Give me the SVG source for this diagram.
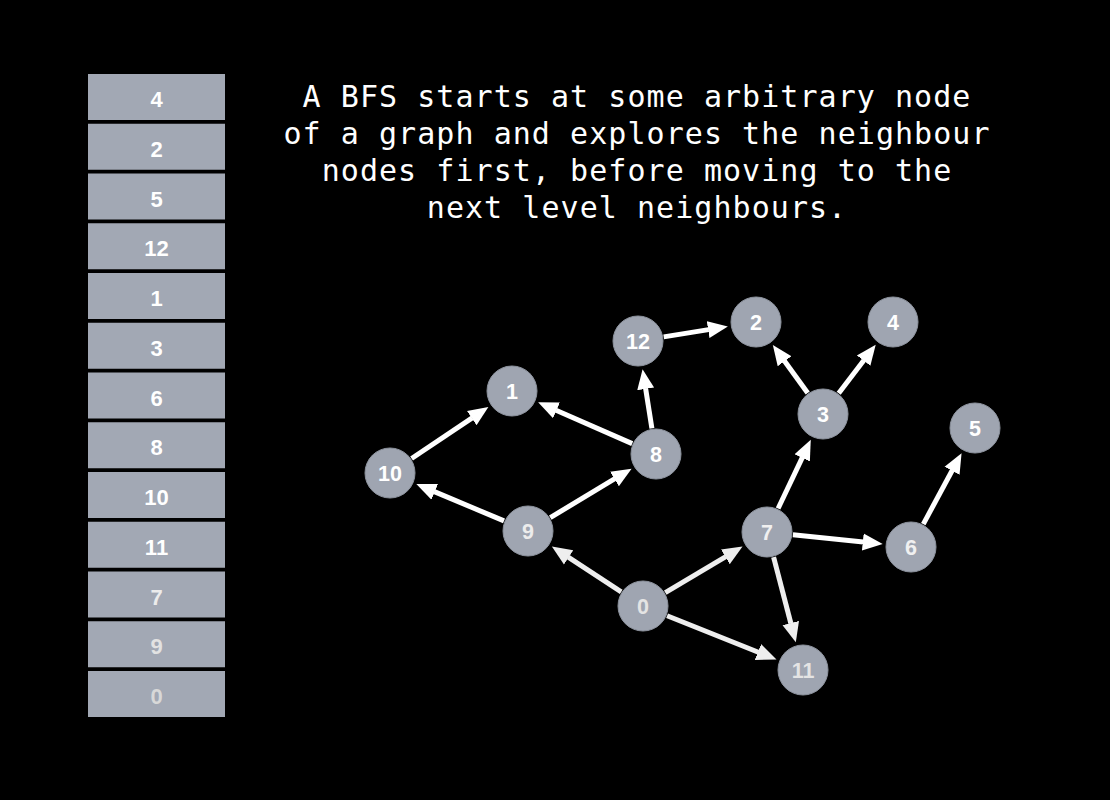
<svg xmlns="http://www.w3.org/2000/svg" width="1110" height="800" viewBox="0 0 1110 800">
<style>
.box{fill:#a2a8b4}
.bl{font-family:"Liberation Sans",Arial,sans-serif;font-weight:bold;font-size:22px;fill:#ffffff;text-anchor:middle}
.node{fill:#9fa5b1;stroke:#8d939e;stroke-width:1}
.nl{font-family:"Liberation Sans",Arial,sans-serif;font-weight:bold;font-size:21.5px;fill:#ffffff;text-anchor:middle}
.edge{stroke:#ffffff;stroke-width:5;fill:none;marker-end:url(#ah)}
.edge.g{stroke:#eeeeee;marker-end:url(#ahg)}
.title{font-family:"DejaVu Sans Mono","Liberation Mono",monospace;font-size:30px;letter-spacing:1.05px;fill:#ffffff;text-anchor:middle}
</style>
<defs>
<marker id="ah" markerUnits="userSpaceOnUse" viewBox="0 -10 22 20" markerWidth="22" markerHeight="20" refX="0.5" refY="0" orient="auto">
<path d="M0,-8.5 L20,0 L0,8.5 z" fill="#ffffff"/>
</marker>
<marker id="ahg" markerUnits="userSpaceOnUse" viewBox="0 -10 22 20" markerWidth="22" markerHeight="20" refX="0.5" refY="0" orient="auto">
<path d="M0,-8.5 L20,0 L0,8.5 z" fill="#eeeeee"/>
</marker>
</defs>
<rect width="1110" height="800" fill="#000000"/>

<g id="queue">
<rect class="box" x="88" y="74" width="137" height="46"/><text class="bl" x="156.5" y="107">4</text>
<rect class="box" x="88" y="123.75" width="137" height="46"/><text class="bl" x="156.5" y="156.75">2</text>
<rect class="box" x="88" y="173.5" width="137" height="46"/><text class="bl" x="156.5" y="206.5">5</text>
<rect class="box" x="88" y="223.25" width="137" height="46"/><text class="bl" x="156.5" y="256.25">12</text>
<rect class="box" x="88" y="273" width="137" height="46"/><text class="bl" x="156.5" y="306">1</text>
<rect class="box" x="88" y="322.75" width="137" height="46"/><text class="bl" x="156.5" y="355.75">3</text>
<rect class="box" x="88" y="372.5" width="137" height="46"/><text class="bl" x="156.5" y="405.5">6</text>
<rect class="box" x="88" y="422.25" width="137" height="46"/><text class="bl" x="156.5" y="455.25">8</text>
<rect class="box" x="88" y="472" width="137" height="46"/><text class="bl" x="156.5" y="505">10</text>
<rect class="box" x="88" y="521.75" width="137" height="46"/><text class="bl" x="156.5" y="554.75">11</text>
<rect class="box" x="88" y="571.5" width="137" height="46"/><text class="bl" x="156.5" y="604.5" style="fill:#ececec">7</text>
<rect class="box" x="88" y="621.25" width="137" height="46"/><text class="bl" x="156.5" y="654.25" style="fill:#e2e2e2">9</text>
<rect class="box" x="88" y="671" width="137" height="46"/><text class="bl" x="156.5" y="704" style="fill:#d8d8d8">0</text>
</g>

<g id="caption">
<text class="title" x="637" y="107">A BFS starts at some arbitrary node</text>
<text class="title" x="637" y="144">of a graph and explores the neighbour</text>
<text class="title" x="637" y="181">nodes first, before moving to the</text>
<text class="title" x="637" y="218">next level neighbours.</text>
</g>

<g id="connectors">
<line class="edge g" x1="621.2" y1="591.8" x2="568.2" y2="557.2"/>
<line class="edge g" x1="665.3" y1="592.7" x2="725.8" y2="556.6"/>
<line class="edge g" x1="667.1" y1="615.7" x2="758.4" y2="652.2"/>
<line class="edge" x1="504" y1="520.9" x2="434.3" y2="491.6"/>
<line class="edge" x1="550.3" y1="517.6" x2="614.9" y2="478.7"/>
<line class="edge" x1="411.6" y1="458.5" x2="472.2" y2="417.8"/>
<line class="edge" x1="632.2" y1="443.6" x2="556" y2="410.2"/>
<line class="edge" x1="651.9" y1="428.3" x2="645.6" y2="388.4"/>
<line class="edge" x1="663.7" y1="336.9" x2="708.6" y2="329.6"/>
<line class="edge" x1="778.1" y1="508.5" x2="802.4" y2="457.4"/>
<line class="edge" x1="792.9" y1="534.7" x2="863.3" y2="542"/>
<line class="edge g" x1="773.6" y1="557.2" x2="790.9" y2="623.5"/>
<line class="edge" x1="807.7" y1="393" x2="784.3" y2="360.8"/>
<line class="edge" x1="838.7" y1="393.3" x2="863.9" y2="360.2"/>
<line class="edge" x1="923.3" y1="524.1" x2="952.3" y2="470.3"/>
</g>

<g id="n0"><circle class="node" cx="643" cy="606" r="25"/><text class="nl" x="643" y="614" style="fill:#e4e4e4">0</text></g>
<g id="n1"><circle class="node" cx="512" cy="391" r="25"/><text class="nl" x="512" y="399">1</text></g>
<g id="n2"><circle class="node" cx="756" cy="322" r="25"/><text class="nl" x="756" y="330">2</text></g>
<g id="n3"><circle class="node" cx="823" cy="414" r="25"/><text class="nl" x="823" y="422">3</text></g>
<g id="n4"><circle class="node" cx="893" cy="322" r="25"/><text class="nl" x="893" y="330">4</text></g>
<g id="n5"><circle class="node" cx="975" cy="428" r="25"/><text class="nl" x="975" y="436">5</text></g>
<g id="n6"><circle class="node" cx="911" cy="547" r="25"/><text class="nl" x="911" y="555" style="fill:#f0f0f0">6</text></g>
<g id="n7"><circle class="node" cx="767" cy="532" r="25"/><text class="nl" x="767" y="540" style="fill:#f0f0f0">7</text></g>
<g id="n8"><circle class="node" cx="656" cy="454" r="25"/><text class="nl" x="656" y="462">8</text></g>
<g id="n9"><circle class="node" cx="528" cy="531" r="25"/><text class="nl" x="528" y="539" style="fill:#ececec">9</text></g>
<g id="n10"><circle class="node" cx="390" cy="473" r="25"/><text class="nl" x="390" y="481">10</text></g>
<g id="n11"><circle class="node" cx="803" cy="670" r="25"/><text class="nl" x="803" y="678" style="fill:#e4e4e4">11</text></g>
<g id="n12"><circle class="node" cx="638" cy="341" r="25"/><text class="nl" x="638" y="349">12</text></g>
</svg>
